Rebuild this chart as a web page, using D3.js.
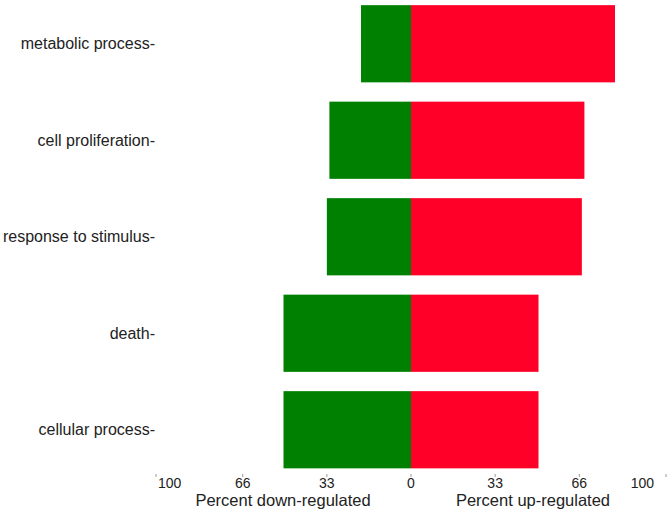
<!DOCTYPE html>
<html><head><meta charset="utf-8">
<script src="https://cdn.jsdelivr.net/npm/d3@7"></script>
<style>body{margin:0;background:#fff}svg{display:block}text{font-family:"Liberation Sans",Arial,sans-serif;fill:#222}</style>
</head><body>
<script>
const categories = ["metabolic process","cell proliferation","response to stimulus","death","cellular process"];
const downValues = [19.6, 32, 33, 50, 50];
const upValues = [80, 68, 67, 50, 50];
const tickValues = [-100, -66, -33, 0, 33, 66, 100];
const tickLabels = ["100","66","33","0","33","66","100"];

const W = 671, H = 510;
const svg = d3.select("body").append("svg").attr("width", W).attr("height", H);
const x = d3.scaleLinear().domain([-100, 100]).range([156, 666]);
const y = d3.scaleBand().domain(categories).range([-4.5, 478]).paddingInner(0.2).paddingOuter(0.1);

const g = svg.append("g");
g.selectAll("rect.down").data(categories).join("rect").attr("class","down")
  .attr("x", (d,i) => x(-downValues[i])).attr("y", d => y(d))
  .attr("width", (d,i) => x(0) - x(-downValues[i])).attr("height", y.bandwidth())
  .attr("fill", "#008000");
g.selectAll("rect.up").data(categories).join("rect").attr("class","up")
  .attr("x", x(0)).attr("y", d => y(d))
  .attr("width", (d,i) => x(upValues[i]) - x(0)).attr("height", y.bandwidth())
  .attr("fill", "#ff0028");

// category labels
svg.selectAll("text.cat").data(categories).join("text").attr("class","cat")
  .attr("x", 155).attr("y", d => y(d) + y.bandwidth()/2).attr("dy","0.35em")
  .attr("text-anchor","end").style("font-size","16px").text(d => d + "-");

// x axis ticks
const ty = 474;
svg.selectAll("line.tick").data(tickValues).join("line").attr("class","tick")
  .attr("x1", d => x(d)).attr("x2", d => x(d)).attr("y1", ty).attr("y2", ty+3)
  .attr("stroke","#999").attr("stroke-width",1);
svg.selectAll("text.tl").data(tickValues).join("text").attr("class","tl")
  .attr("x", (d) => d === -100 ? x(d) + 2 : d === 100 ? x(d) - 12 : x(d))
  .attr("y", 488)
  .attr("text-anchor", d => d === -100 ? "start" : d === 100 ? "end" : "middle")
  .style("font-size","14px").text((d,i) => tickLabels[i]);

svg.append("text").attr("x", 283).attr("y", 506).attr("text-anchor","middle")
  .style("font-size","16.5px").text("Percent down-regulated");
svg.append("text").attr("x", 533).attr("y", 506).attr("text-anchor","middle")
  .style("font-size","16.5px").text("Percent up-regulated");
</script>
</body></html>
